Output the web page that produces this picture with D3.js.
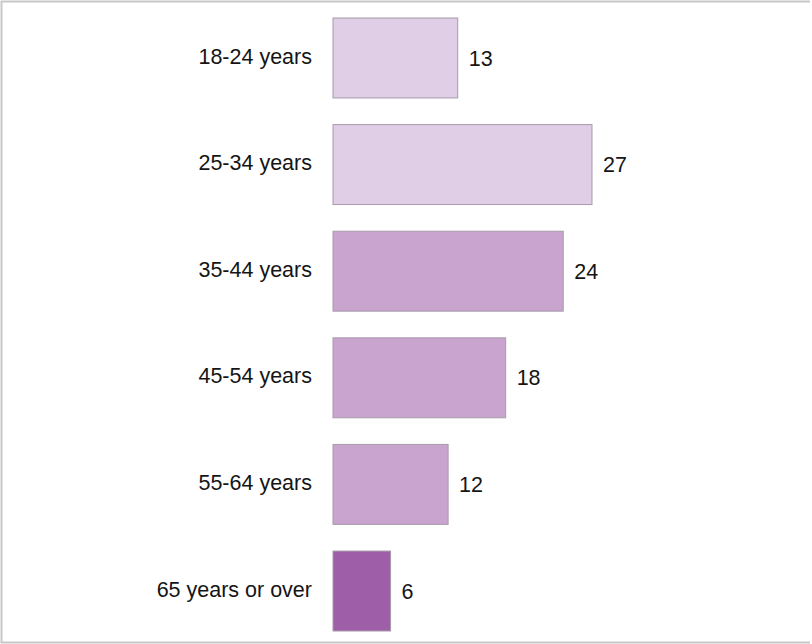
<!DOCTYPE html>
<html>
<head>
<meta charset="utf-8">
<script src="https://cdn.jsdelivr.net/npm/d3@7"></script>
<style>
  html, body { margin: 0; padding: 0; background: #fff; }
  svg { display: block; }
  text { font-family: "Liberation Sans", Arial, sans-serif; fill: #151515; }
</style>
</head>
<body>
<svg id="chart" width="812" height="644"></svg>
<script>
// Age groups and their values
const categories = ["18-24 years", "25-34 years", "35-44 years", "45-54 years", "55-64 years", "65 years or over"];
const values = [13, 27, 24, 18, 12, 6];
const colors = ["#e0cde6", "#e0cde6", "#c8a4cf", "#c8a4cf", "#c8a4cf", "#9e5fa8"];

const svg = d3.select("#chart");

// Frame around the chart area
svg.append("path")
  .attr("d", `M810,1.5 H1.5 V642.5 H810`)
  .attr("fill", "none")
  .attr("stroke", "#c8c8c8")
  .attr("stroke-width", 2);

const x0 = 333;
const x = d3.scaleLinear().domain([0, 27]).range([x0, x0 + 259]);
const y = d3.scaleBand()
  .domain(categories)
  .range([18, 631])
  .paddingInner(0.25)
  .paddingOuter(0);

const rows = svg.selectAll("g.row")
  .data(categories.map((c, i) => ({ c, v: values[i], col: colors[i] })))
  .join("g")
  .attr("class", "row");

rows.append("rect")
  .attr("x", x(0))
  .attr("y", d => y(d.c))
  .attr("width", d => x(d.v) - x(0))
  .attr("height", y.bandwidth())
  .attr("fill", d => d.col)
  .attr("stroke", "#a89aaa")
  .attr("stroke-width", 1);

rows.append("text")
  .attr("x", x(0) - 21)
  .attr("y", d => y(d.c) + y.bandwidth() / 2 - 2)
  .attr("dy", "0.35em")
  .attr("text-anchor", "end")
  .attr("font-size", 21.5)
  .text(d => d.c);

rows.append("text")
  .attr("x", d => x(d.v) + 11)
  .attr("y", d => y(d.c) + y.bandwidth() / 2)
  .attr("dy", "0.35em")
  .attr("text-anchor", "start")
  .attr("font-size", 21.5)
  .text(d => d.v);
</script>
</body>
</html>
